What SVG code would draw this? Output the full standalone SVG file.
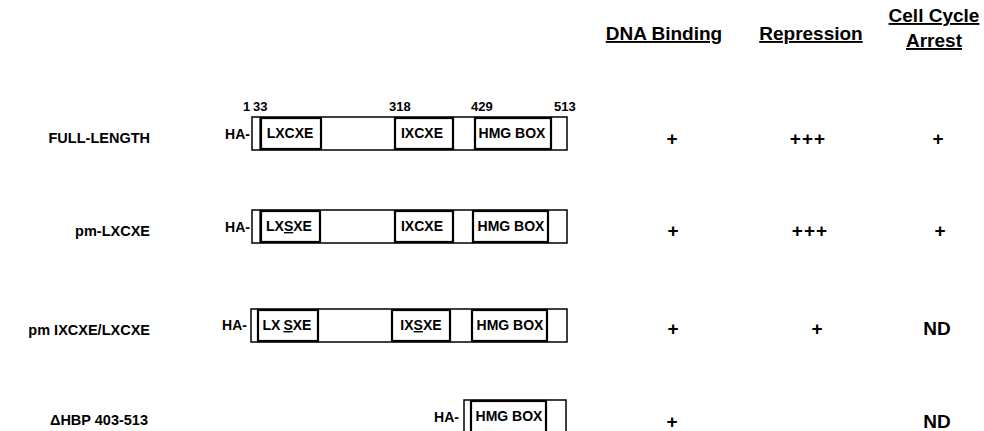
<svg xmlns="http://www.w3.org/2000/svg" width="984" height="431" viewBox="0 0 984 431">
<style>
text{font-family:"Liberation Sans",Arial,Helvetica,sans-serif;font-weight:bold;fill:#000}
.lbl{font-size:14.5px;text-anchor:end}
.ha{font-size:14px;text-anchor:end}
.bx{font-size:14px;text-anchor:middle}
.num{font-size:13px}
.hd{font-size:19px;text-anchor:middle;text-decoration:underline}
.pl{font-size:19px;text-anchor:middle}
.nd{font-size:19px;text-anchor:middle}
.outer{fill:#fff;stroke:#000;stroke-width:1.5}
.dom{fill:#fff;stroke:#000;stroke-width:2.2}
.thin{stroke:#000;stroke-width:1.2}
.u{text-decoration:underline}
</style>
<rect width="984" height="431" fill="#fff"/>

<g id="headers">
<text class="hd" x="664" y="40">DNA Binding</text>
<text class="hd" x="811" y="40">Repression</text>
<text class="hd" x="934" y="22">Cell Cycle</text>
<text class="hd" x="934" y="47">Arrest</text>
</g>

<g id="positions">
<text class="num" x="243" y="111">1</text>
<text class="num" x="253" y="111">33</text>
<text class="num" x="389" y="111">318</text>
<text class="num" x="471" y="111">429</text>
<text class="num" x="554" y="111">513</text>
</g>

<g id="row-full-length">
<text class="lbl" x="150" y="143">FULL-LENGTH</text>
<text class="ha" x="250" y="139">HA-</text>
<rect class="outer" x="252" y="117" width="315" height="33"/>
<line class="thin" x1="260" y1="117" x2="260" y2="150"/>
<rect class="dom" x="261" y="118" width="60" height="31"/>
<rect class="dom" x="395" y="118" width="58" height="31"/>
<rect class="dom" x="475" y="118" width="76" height="31"/>
<text class="bx" x="290" y="138">LXCXE</text>
<text class="bx" x="422" y="138">IXCXE</text>
<text class="bx" x="512" y="138">HMG BOX</text>
<text class="pl" x="672" y="145">+</text>
<text class="pl" x="808" y="145" letter-spacing="1">+++</text>
<text class="pl" x="938" y="145">+</text>
</g>

<g id="row-pm-lxcxe">
<text class="lbl" x="150" y="236">pm-LXCXE</text>
<text class="ha" x="250" y="232">HA-</text>
<rect class="outer" x="252" y="210" width="315" height="33"/>
<line class="thin" x1="260" y1="210" x2="260" y2="243"/>
<rect class="dom" x="261" y="211" width="59" height="31"/>
<rect class="dom" x="395" y="211" width="58" height="31"/>
<rect class="dom" x="473" y="211" width="75" height="31"/>
<text class="bx" x="289" y="231">LX<tspan class="u">S</tspan>XE</text>
<text class="bx" x="422" y="231">IXCXE</text>
<text class="bx" x="511" y="231">HMG BOX</text>
<text class="pl" x="673" y="237">+</text>
<text class="pl" x="810" y="237" letter-spacing="1">+++</text>
<text class="pl" x="940" y="237">+</text>
</g>

<g id="row-pm-ixcxe-lxcxe">
<text class="lbl" x="150" y="335">pm IXCXE/LXCXE</text>
<text class="ha" x="247" y="330">HA-</text>
<rect class="outer" x="251" y="309" width="316" height="33"/>
<line class="thin" x1="258" y1="309" x2="258" y2="342"/>
<rect class="dom" x="258" y="310" width="60" height="31"/>
<rect class="dom" x="392" y="310" width="58" height="31"/>
<rect class="dom" x="472" y="310" width="75" height="31"/>
<text class="bx" x="287" y="330">LX<tspan dx="3" class="u">S</tspan>XE</text>
<text class="bx" x="421" y="330"><tspan>IX</tspan><tspan class="u">S</tspan><tspan>XE</tspan></text>
<text class="bx" x="510" y="330">HMG BOX</text>
<text class="pl" x="673" y="335">+</text>
<text class="pl" x="817" y="335">+</text>
<text class="nd" x="937" y="335">ND</text>
</g>

<g id="row-dhbp">
<text class="lbl" x="148" y="425">ΔHBP 403-513</text>
<text class="ha" x="459" y="422">HA-</text>
<rect class="outer" x="464" y="400" width="102" height="35"/>
<line class="thin" x1="471" y1="400" x2="471" y2="435"/>
<rect class="dom" x="471" y="401" width="75" height="34"/>
<text class="bx" x="509" y="421">HMG BOX</text>
<text class="pl" x="672" y="428">+</text>
<text class="nd" x="937" y="428">ND</text>
</g>
</svg>
